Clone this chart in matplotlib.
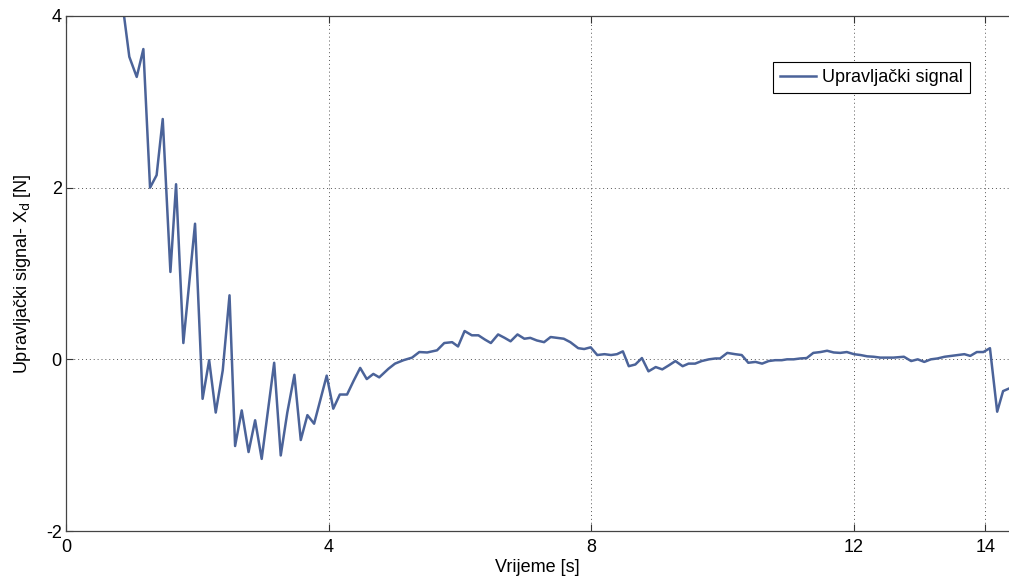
import matplotlib
matplotlib.use("Agg")
import matplotlib.pyplot as plt

plt.rcParams['font.family'] = ['Liberation Sans', 'DejaVu Sans']

# Control signal samples: time [s] and force [N]
vrijeme = [
    0.78, 0.884, 0.964, 1.077, 1.178, 1.28, 1.38, 1.473, 1.59, 1.676,
    1.787, 1.965, 2.08, 2.18, 2.28, 2.387, 2.49, 2.575, 2.676, 2.78,
    2.88, 2.98, 3.17, 3.27, 3.37, 3.478, 3.575, 3.676, 3.778, 3.87,
    3.97, 4.07, 4.17, 4.28, 4.38, 4.48, 4.58, 4.68, 4.77, 4.91,
    5.01, 5.14, 5.27, 5.38, 5.50, 5.65, 5.76, 5.88, 5.97, 6.07,
    6.18, 6.28, 6.38, 6.47, 6.58, 6.68, 6.77, 6.875, 6.98, 7.07,
    7.17, 7.28, 7.38, 7.48, 7.58, 7.68, 7.80, 7.89, 7.99, 8.09,
    8.20, 8.30, 8.39, 8.48, 8.57, 8.67, 8.77, 8.87, 8.98, 9.08,
    9.18, 9.28, 9.39, 9.48, 9.58, 9.68, 9.79, 9.89, 9.96, 10.07,
    10.19, 10.29, 10.39, 10.50, 10.60, 10.70, 10.80, 10.90, 10.98, 11.08,
    11.18, 11.28, 11.38, 11.49, 11.59, 11.69, 11.79, 11.89, 12.00, 12.10,
    12.20, 12.30, 12.40, 12.50, 12.60, 12.76, 12.87, 12.97, 13.07, 13.17,
    13.27, 13.38, 13.48, 13.58, 13.68, 13.77, 13.87, 13.97, 14.07, 14.18,
    14.27, 14.36,
]
upravljacki_signal = [
    4.60, 4.00, 3.525, 3.29, 3.615, 2.00, 2.146, 2.80, 1.018, 2.04,
    0.19, 1.58, -0.46, -0.01, -0.62, -0.128, 0.746, -1.01, -0.595, -1.08,
    -0.71, -1.16, -0.04, -1.12, -0.62, -0.18, -0.94, -0.65, -0.75, -0.48,
    -0.19, -0.575, -0.41, -0.41, -0.25, -0.10, -0.23, -0.17, -0.21, -0.11,
    -0.05, -0.01, 0.02, 0.085, 0.08, 0.105, 0.19, 0.20, 0.15, 0.33,
    0.28, 0.28, 0.23, 0.19, 0.29, 0.25, 0.21, 0.29, 0.24, 0.25,
    0.22, 0.20, 0.26, 0.25, 0.24, 0.20, 0.13, 0.12, 0.14, 0.05,
    0.06, 0.05, 0.06, 0.093, -0.08, -0.06, 0.015, -0.14, -0.09, -0.117,
    -0.07, -0.02, -0.08, -0.05, -0.05, -0.02, 0.00, 0.01, 0.01, 0.075,
    0.06, 0.05, -0.04, -0.03, -0.05, -0.02, -0.01, -0.01, 0.00, 0.00,
    0.01, 0.015, 0.075, 0.085, 0.10, 0.08, 0.075, 0.085, 0.06, 0.05,
    0.035, 0.03, 0.02, 0.02, 0.02, 0.03, -0.02, 0.00, -0.03, 0.00,
    0.01, 0.03, 0.04, 0.05, 0.06, 0.04, 0.085, 0.085, 0.13, -0.61,
    -0.37, -0.34,
]

x_ticks = [0, 4, 8, 12, 14]
y_ticks = [-2, 0, 2, 4]

fig = plt.figure(figsize=(10.09, 5.83), dpi=100)
ax = fig.add_axes([66 / 1009, 52 / 583, 1 - 66 / 1009, 515 / 583])

ax.plot(vrijeme, upravljacki_signal, color='#4b6399', lw=1.8,
        label='Upravljački signal')

ax.set_xlim(0, 14.36)
ax.set_ylim(-2, 4)
ax.set_xticks(x_ticks)
ax.set_yticks(y_ticks)
ax.set_xticklabels([str(t) for t in x_ticks])
ax.set_yticklabels([str(t) for t in y_ticks])

ax.grid(True, linestyle=(0, (1, 3)), color='#555555', lw=0.7)
ax.tick_params(direction='in', length=5, width=0.8, labelsize=13,
               top=True, right=False, colors='#333333', labelcolor='black')
ax.tick_params(axis='x', pad=6)
ax.tick_params(axis='y', pad=3)

for side in ['left', 'bottom', 'top']:
    ax.spines[side].set_color('#444444')
    ax.spines[side].set_linewidth(0.9)
ax.spines['right'].set_visible(False)

ax.set_xlabel('Vrijeme [s]', fontsize=13, labelpad=2)
ax.set_ylabel('Upravljački signal- X$_{\\mathrm{d}}$ [N]', fontsize=13, labelpad=9)

leg = ax.legend(loc='upper right', bbox_to_anchor=(970 / 1009, 1 - 62 / 583),
                bbox_transform=fig.transFigure, borderaxespad=0,
                fontsize=13, fancybox=False, framealpha=1,
                edgecolor='black', handlelength=2.0, handletextpad=0.3,
                borderpad=0.4)
leg.get_frame().set_linewidth(0.8)

fig.savefig('out.png', dpi=100)
